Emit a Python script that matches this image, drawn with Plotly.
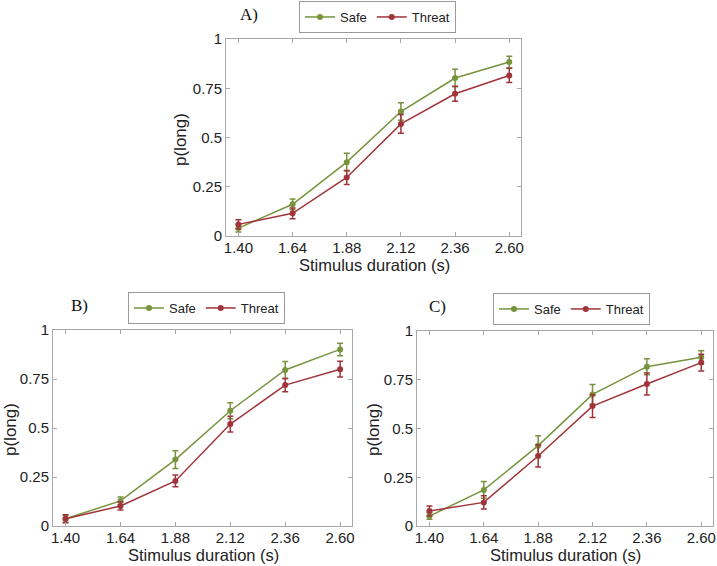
import plotly.graph_objects as go

durations = [1.40, 1.64, 1.88, 2.12, 2.36, 2.60]
tick_labels = ["1.40", "1.64", "1.88", "2.12", "2.36", "2.60"]

safe_A = [0.040, 0.161, 0.375, 0.632, 0.802, 0.883]
safe_A_err = [0.020, 0.027, 0.045, 0.045, 0.044, 0.030]
threat_A = [0.059, 0.115, 0.297, 0.569, 0.722, 0.815]
threat_A_err = [0.024, 0.027, 0.036, 0.048, 0.038, 0.036]

safe_B = [0.037, 0.128, 0.339, 0.588, 0.796, 0.901]
safe_B_err = [0.018, 0.020, 0.045, 0.041, 0.043, 0.032]
threat_B = [0.037, 0.102, 0.230, 0.520, 0.719, 0.800]
threat_B_err = [0.020, 0.021, 0.030, 0.040, 0.034, 0.040]

safe_C = [0.051, 0.185, 0.412, 0.675, 0.817, 0.865]
safe_C_err = [0.017, 0.043, 0.051, 0.051, 0.041, 0.034]
threat_C = [0.077, 0.121, 0.359, 0.615, 0.728, 0.838]
threat_C_err = [0.026, 0.034, 0.056, 0.058, 0.056, 0.043]

x_title = "Stimulus duration (s)"
y_title = "p(long)"

GREEN = "#77933c"
RED = "#a0343a"
W, H = 717, 566

panels = [
    ("A)", safe_A, safe_A_err, threat_A, threat_A_err, "x", "y", "legend"),
    ("B)", safe_B, safe_B_err, threat_B, threat_B_err, "x2", "y2", "legend2"),
    ("C)", safe_C, safe_C_err, threat_C, threat_C_err, "x3", "y3", "legend3"),
]

fig = go.Figure()
for label, s, se, t, te, xa, ya, lg in panels:
    for name, vals, errs, col in (("Safe", s, se, GREEN), ("Threat", t, te, RED)):
        fig.add_trace(go.Scatter(
            x=durations, y=vals, name=name, mode="lines+markers",
            line=dict(color=col, width=1.5),
            marker=dict(color=col, size=6, symbol="circle"),
            error_y=dict(type="data", array=errs, visible=True,
                         color=col, thickness=1.5, width=3),
            xaxis=xa, yaxis=ya, legend=lg, showlegend=True,
        ))

# pixel boxes: (left, right, top, bottom)
boxes = [(226, 521, 39, 236), (53, 352, 330, 526), (417, 713, 331, 526)]

axis_common = dict(
    showline=True, linecolor="#a8a8a8", linewidth=1, mirror="ticks",
    ticks="inside", ticklen=4, tickcolor="#a8a8a8", showgrid=False,
    zeroline=False, automargin=False,
    tickfont=dict(family="Liberation Sans", size=15, color="#222"),
)

layout = dict(
    width=W, height=H, margin=dict(l=0, r=0, t=0, b=0, autoexpand=False),
    paper_bgcolor="white", plot_bgcolor="white",
)
for i, (l, r, t, b) in enumerate(boxes):
    sfx = "" if i == 0 else str(i + 1)
    layout["xaxis" + sfx] = dict(
        domain=[l / W, r / W], range=[1.345, 2.652],
        tickmode="array", tickvals=durations, ticktext=tick_labels,
        anchor="y" + sfx, ticklabelstandoff=-2, **axis_common,
    )
    layout["yaxis" + sfx] = dict(
        domain=[1 - b / H, 1 - t / H], range=[0, 1],
        tickmode="array", tickvals=[0, 0.25, 0.5, 0.75, 1],
        ticktext=["0", "0.25", "0.5", "0.75", "1"],
        anchor="x" + sfx, **axis_common,
    )

legend_pos = [(299, 1), (128, 292), (493, 293)]
for i, (lx, ly) in enumerate(legend_pos):
    key = "legend" if i == 0 else "legend" + str(i + 1)
    layout[key] = dict(
        x=lx / W, y=1 - ly / H, xanchor="left", yanchor="top",
        orientation="h", bordercolor="#9a9a9a", borderwidth=1,
        bgcolor="white", itemwidth=30, tracegroupgap=0,
        font=dict(family="Liberation Sans", size=13, color="#222"),
    )

fig.update_layout(**layout)

def add_text(txt, px, py, family, size, angle=0, color="#222"):
    fig.add_annotation(
        text=txt, x=px / W, y=1 - py / H, xref="paper", yref="paper",
        xanchor="center", yanchor="middle", showarrow=False, textangle=angle,
        font=dict(family=family, size=size, color=color),
    )

for txt, px, py in [("A)", 249, 15), ("B)", 79, 305), ("C)", 437, 306)]:
    add_text(txt, px, py, "Liberation Serif", 17, color="#111")

for px, py in [(374, 265), (203, 555), (565, 555)]:
    add_text(x_title, px, py, "Liberation Sans", 16.5)

for px, py in [(180, 140), (10, 430), (373, 430)]:
    add_text(y_title, px, py, "Liberation Sans", 17, angle=-90)

fig.write_html(
    "out.html",
    config={"displayModeBar": False},
    post_script="document.body.style.margin='0';document.body.style.overflow='hidden';",
)
